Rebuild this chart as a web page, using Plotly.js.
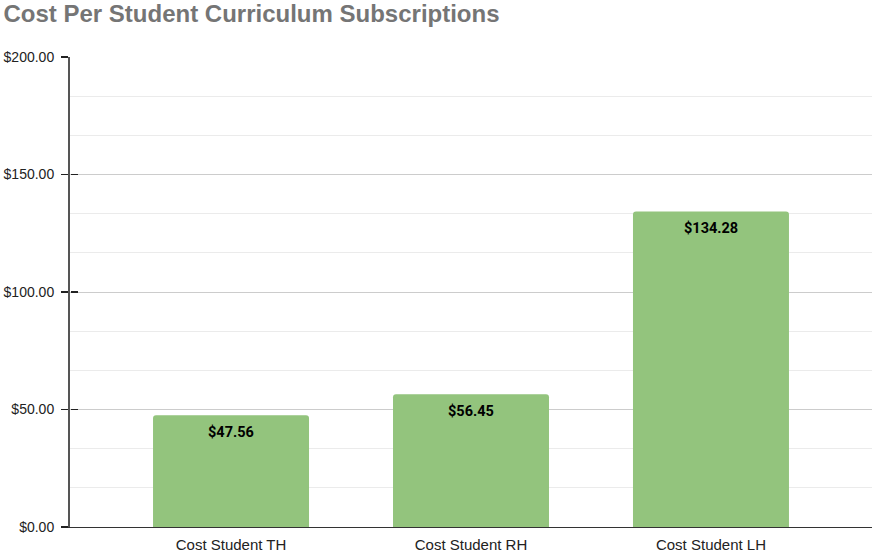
<!DOCTYPE html>
<html><head><meta charset="utf-8">
<script src="https://cdn.plot.ly/plotly-3.0.1.min.js"></script>
<style>html,body{margin:0;padding:0;background:#fff}#chart{width:874px;height:554px}</style>
</head><body><div id="chart"></div>
<script>
const categories = ["Cost Student TH", "Cost Student RH", "Cost Student LH"];
const costs = [47.56, 56.45, 134.28];
const tickVals = [0, 50, 100, 150, 200];
const tickText = ["$0.00", "$50.00", "$100.00", "$150.00", "$200.00"];

const trace = {
  type: "bar", x: categories, y: costs,
  marker: {color: "#93c47d", cornerradius: 3},
  hoverinfo: "none"
};
const annotations = categories.map((c, i) => ({
  x: c, y: costs[i], xref: "x", yref: "y",
  text: "<b>$" + costs[i].toFixed(2) + "</b>",
  showarrow: false, yanchor: "top", yshift: -7,
  font: {family: "Roboto, Arial", size: 14.5, color: "#000"}
}));
const layout = {
  width: 874, height: 554,
  margin: {l: 70, r: 2, t: 57, b: 27},
  paper_bgcolor: "#fff", plot_bgcolor: "#fff",
  title: {text: "<b>Cost Per Student Curriculum Subscriptions</b>", x: 0.004, xanchor: "left", y: 0.99, yanchor: "top",
    font: {family: "Liberation Sans, Arial", size: 24, color: "#757575"}},
  bargap: 0.35,
  showlegend: false,
  xaxis: {type: "category", range: [-0.671, 2.671], showline: true, linecolor: "#333", linewidth: 1, ticks: "", showgrid: false,
    ticklabelstandoff: 4,
    tickfont: {family: "Liberation Sans, Arial", size: 15, color: "#222"}, fixedrange: true},
  yaxis: {range: [0, 200], tickvals: tickVals, ticktext: tickText, showline: true, linecolor: "#555", linewidth: 2,
    ticks: "outside", ticklen: 7, tickcolor: "#222", tickwidth: 1.5, ticklabelstandoff: 4,
    gridcolor: "#cccccc", gridwidth: 1, zeroline: false,
    minor: {tick0: 0, dtick: 50 / 3, showgrid: true, gridcolor: "#ebebeb", ticks: ""},
    tickfont: {family: "Liberation Sans, Arial", size: 14, color: "#222"}, fixedrange: true},
  yaxis2: {range: [0, 200], overlaying: "y", side: "left", anchor: "free", position: 0, tickvals: tickVals, showticklabels: false,
    ticks: "inside", ticklen: 7, tickcolor: "#222", tickwidth: 1.5, showgrid: false, zeroline: false, showline: false},
  annotations: annotations
};
const trace2 = {type: "scatter", x: [categories[0]], y: [0], yaxis: "y2", mode: "markers", marker: {opacity: 0}, hoverinfo: "none", showlegend: false};
Plotly.newPlot("chart", [trace, trace2], layout, {displayModeBar: false, staticPlot: true});
</script></body></html>
